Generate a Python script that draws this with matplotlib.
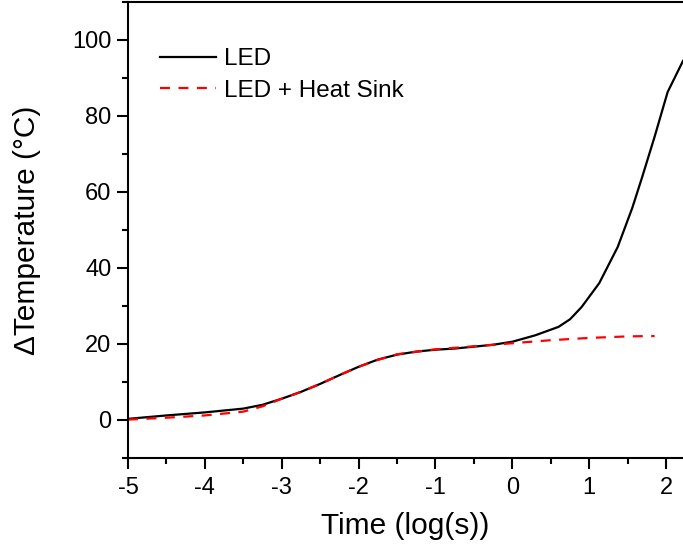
import matplotlib
matplotlib.use("Agg")
import matplotlib.pyplot as plt
from matplotlib.ticker import MultipleLocator

plt.rcParams['font.family'] = ['Liberation Sans', 'DejaVu Sans']
plt.rcParams['axes.unicode_minus'] = False

led_x = [-5, -4.5, -4, -3.5, -3.25, -3, -2.75, -2.5, -2.25, -2, -1.75, -1.5, -1.25, -1, -0.75,
         -0.5, -0.25, 0, 0.3, 0.6, 0.75, 0.9, 1.13, 1.37, 1.56, 1.69, 1.85, 2.02, 2.22]
led_y = [0.3, 1.2, 2.0, 3.0, 4.0, 5.6, 7.4, 9.5, 11.8, 14, 15.9, 17.2, 18, 18.5, 18.8,
         19.3, 19.8, 20.6, 22.3, 24.5, 26.5, 29.7, 36, 45.5, 55.8, 64, 74.5, 86.3, 94.5]

hs_x = [-5, -4.5, -4, -3.5, -3.25, -3, -2.75, -2.5, -2.25, -2, -1.75, -1.5, -1, -0.5, 0,
        0.25, 0.5, 0.75, 1.0, 1.25, 1.5, 1.85]
hs_y = [0.1, 0.6, 1.2, 2.2, 3.6, 5.6, 7.4, 9.5, 11.8, 14, 15.8, 17.3, 18.6, 19.4, 20.2,
        20.6, 21.0, 21.3, 21.6, 21.8, 22.0, 22.1]

fig = plt.figure(figsize=(6.83, 5.5), dpi=100)
ax = fig.add_axes([128/683, 92/550, 1 - 128/683, 456/550])

ax.plot(led_x, led_y, color='black', lw=1.6, label='LED')
ax.plot(hs_x, hs_y, color='red', lw=1.6, ls=(0, (4.5, 3.8)), label='LED + Heat Sink')

ax.set_xlim(-5, 2.22)
ax.set_ylim(-10, 110)
ax.xaxis.set_major_locator(MultipleLocator(1))
ax.xaxis.set_minor_locator(MultipleLocator(0.5))
ax.yaxis.set_minor_locator(MultipleLocator(10))
ax.set_yticks([0, 20, 40, 60, 80, 100])

ax.spines['right'].set_visible(False)
for s in ['left', 'top', 'bottom']:
    ax.spines[s].set_linewidth(1.5)
ax.tick_params(which='major', direction='out', length=8, width=1.5, labelsize=17)
ax.tick_params(which='minor', direction='out', length=4, width=1.5)
ax.tick_params(axis='x', pad=6)
ax.tick_params(axis='y', pad=4)

ax.set_xlabel('Time (log(s))', fontsize=21.5, labelpad=9)
ax.set_ylabel('ΔTemperature (°C)', fontsize=21.5, labelpad=22)

leg = ax.legend(loc='upper left', bbox_to_anchor=(0.041, 0.92), frameon=False, fontsize=17.5,
                handlelength=2.3, handletextpad=0.3, labelspacing=0.4, borderaxespad=0)

fig.savefig('out.png', dpi=100)
